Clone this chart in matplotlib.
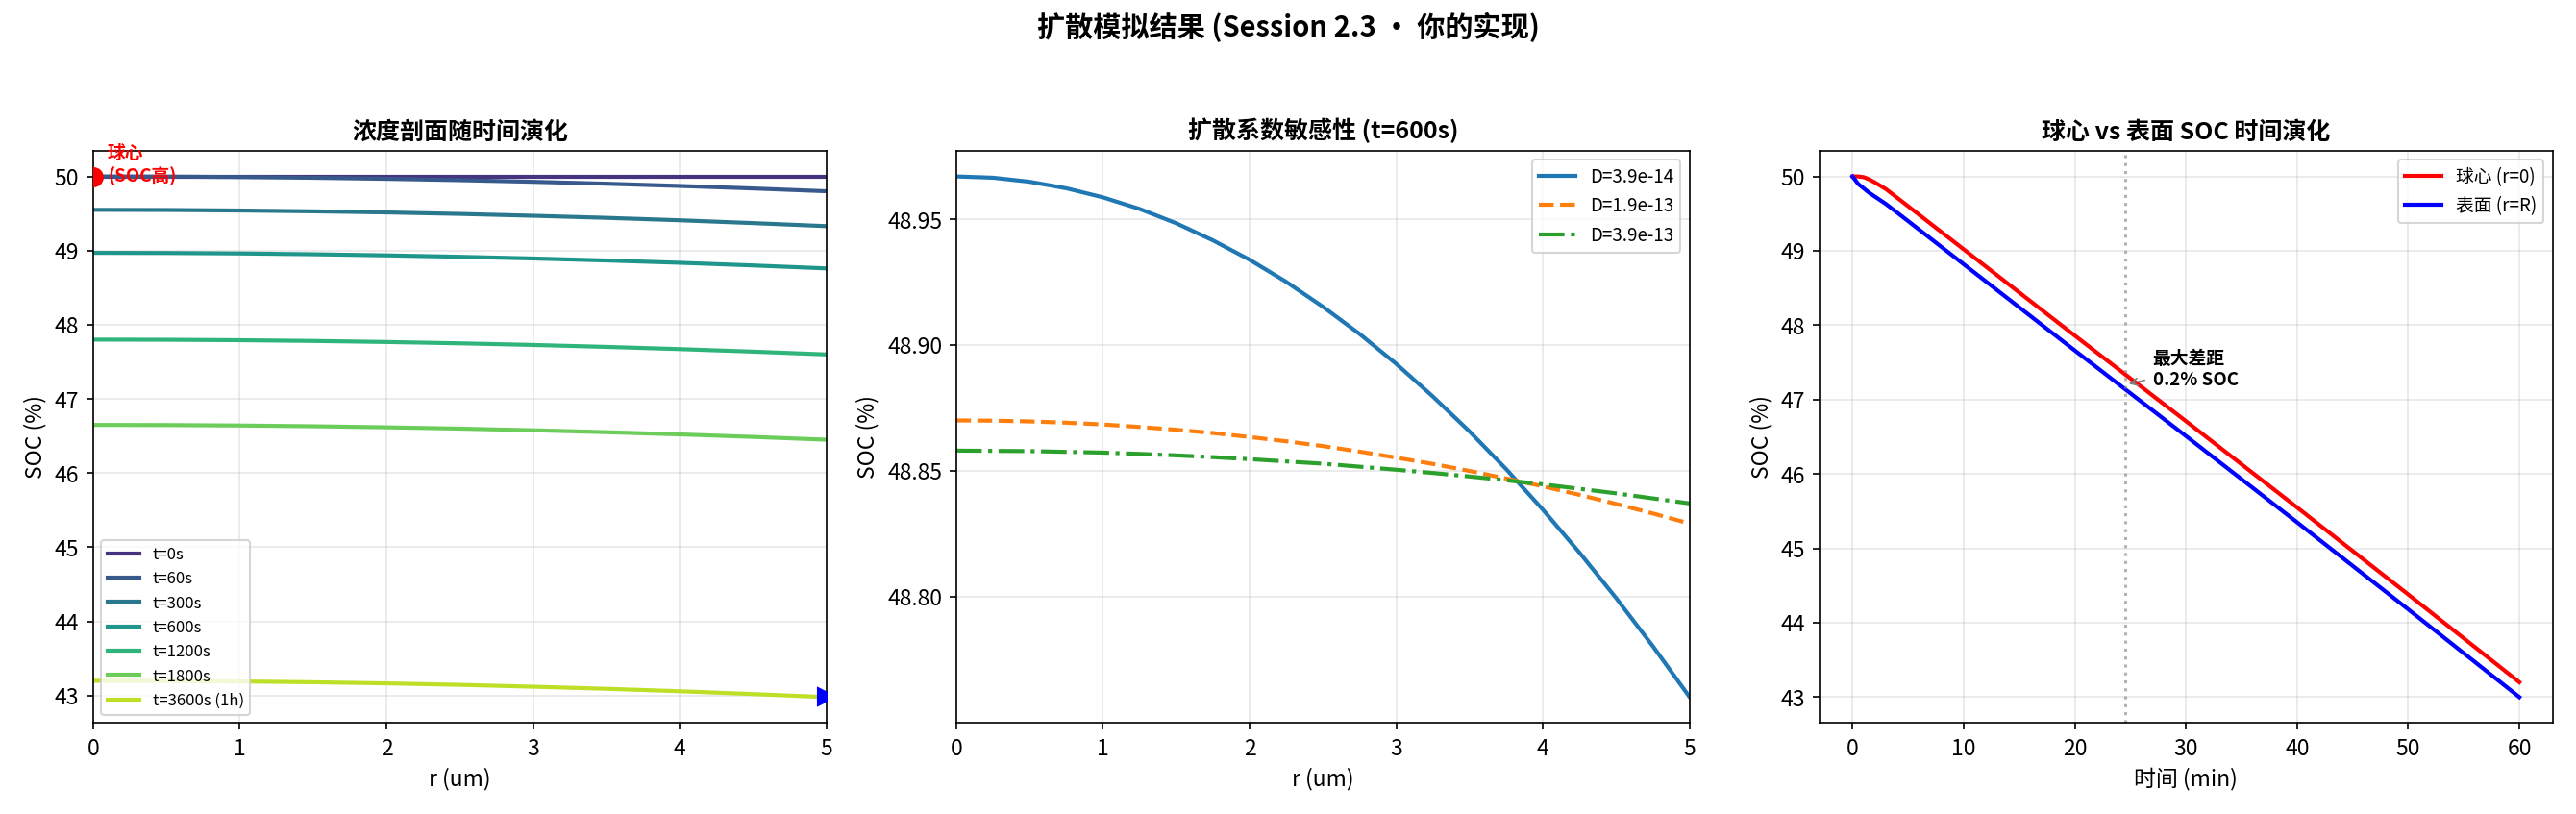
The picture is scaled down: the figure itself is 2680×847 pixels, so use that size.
import matplotlib
matplotlib.use("Agg")
import matplotlib.pyplot as plt
import numpy as np

plt.rcParams['font.family'] = ['Noto Sans CJK SC', 'DejaVu Sans']
plt.rcParams['axes.unicode_minus'] = False
plt.rcParams['font.size'] = 11

r = [0, 0.5, 1, 1.5, 2, 2.5, 3, 3.5, 4, 4.5, 5]
labels = ['t=0s', 't=60s', 't=300s', 't=600s', 't=1200s', 't=1800s', 't=3600s (1h)']
profiles = [
    [50.0]*11,
    [50.0, 49.998, 49.992, 49.982, 49.968, 49.950, 49.928, 49.902, 49.872, 49.838, 49.80],
    [49.55, 49.548, 49.541, 49.530, 49.515, 49.495, 49.470, 49.442, 49.409, 49.371, 49.33],
    [48.97, 48.968, 48.962, 48.951, 48.936, 48.917, 48.894, 48.867, 48.836, 48.800, 48.76],
    [47.80, 47.798, 47.792, 47.782, 47.768, 47.750, 47.728, 47.702, 47.672, 47.638, 47.60],
    [46.65, 46.648, 46.642, 46.632, 46.618, 46.600, 46.578, 46.552, 46.522, 46.488, 46.45],
    [43.20, 43.198, 43.191, 43.180, 43.165, 43.145, 43.120, 43.092, 43.059, 43.021, 42.98],
]

r2 = [0, 0.25, 0.5, 0.75, 1, 1.25, 1.5, 1.75, 2, 2.25, 2.5, 2.75, 3, 3.25, 3.5, 3.75, 4, 4.25, 4.5, 4.75, 5]
D_labels = ['D=3.9e-14', 'D=1.9e-13', 'D=3.9e-13']
D_vals = [
    [48.967, 48.9665, 48.9649, 48.9623, 48.9587, 48.9541, 48.9484, 48.9416, 48.9339, 48.9251, 48.9152,
     48.9044, 48.8925, 48.8795, 48.8656, 48.8506, 48.8345, 48.8174, 48.7993, 48.7802, 48.760],
    [48.870, 48.8699, 48.8696, 48.8691, 48.8684, 48.8674, 48.8663, 48.8650, 48.8634, 48.8617, 48.8598,
     48.8576, 48.8552, 48.8527, 48.8499, 48.8469, 48.8438, 48.8404, 48.8368, 48.8330, 48.829],
    [48.858, 48.8579, 48.8578, 48.8575, 48.8572, 48.8567, 48.8561, 48.8554, 48.8546, 48.8537, 48.8528,
     48.8516, 48.8504, 48.8491, 48.8477, 48.8462, 48.8446, 48.8428, 48.8410, 48.8390, 48.837],
]

t_min = [0, 0.5, 1, 1.5, 2, 3, 5, 10, 20, 30, 40, 50, 60]
center = [50.0, 50.0, 49.99, 49.96, 49.92, 49.83, 49.60, 49.02, 47.86, 46.71, 45.55, 44.38, 43.20]
surface = [50.0, 49.90, 49.84, 49.78, 49.73, 49.63, 49.40, 48.82, 47.66, 46.51, 45.35, 44.18, 43.00]
max_gap_t = 24.5

fig, axes = plt.subplots(1, 3, figsize=(17.87, 5.65), dpi=150)
fig.suptitle('扩散模拟结果 (Session 2.3 • 你的实现)', fontsize=14, fontweight='bold', y=0.985)

ax = axes[0]
cols = plt.cm.viridis(np.linspace(0.15, 0.9, len(labels)))
for lab, p, c in zip(labels, profiles, cols):
    ax.plot(r, p, color=c, lw=2, label=lab)
ax.plot(r[0], profiles[0][0], 'o', color='red', ms=9, zorder=5)
ax.plot(r[-1], profiles[-1][-1], '>', color='blue', ms=9, zorder=5)
ax.annotate('球心\n(SOC高)', (0, 50), xytext=(0.1, 49.95), color='red', fontsize=9, fontweight='bold')
ax.set_xlim(0, 5)
ax.set_title('浓度剖面随时间演化', fontsize=12, fontweight='bold')
ax.set_xlabel('r (um)')
ax.set_ylabel('SOC (%)')
ax.grid(alpha=0.3)
ax.legend(loc='lower left', fontsize=8)

ax = axes[1]
styles = ['-', '--', '-.']
cs = ['#1f77b4', '#ff7f0e', '#2ca02c']
for lab, v, s, c in zip(D_labels, D_vals, styles, cs):
    ax.plot(r2, v, s, color=c, lw=2, label=lab)
ax.set_xlim(0, 5)
ax.set_yticks([48.80, 48.85, 48.90, 48.95])
ax.set_title('扩散系数敏感性 (t=600s)', fontsize=12, fontweight='bold')
ax.set_xlabel('r (um)')
ax.set_ylabel('SOC (%)')
ax.grid(alpha=0.3)
ax.legend(loc='upper right', fontsize=9)

ax = axes[2]
ax.plot(t_min, center, color='red', lw=2, label='球心 (r=0)')
ax.plot(t_min, surface, color='blue', lw=2, label='表面 (r=R)')
ax.axvline(max_gap_t, color='gray', ls=':', alpha=0.6)
ax.annotate('最大差距\n0.2% SOC', (max_gap_t, 47.2), xytext=(27, 47.2), fontsize=9, fontweight='bold',
            arrowprops=dict(arrowstyle='->', color='gray', lw=0.8))
ax.set_title('球心 vs 表面 SOC 时间演化', fontsize=12, fontweight='bold')
ax.set_xlabel('时间 (min)')
ax.set_ylabel('SOC (%)')
ax.grid(alpha=0.3)
ax.legend(loc='upper right', fontsize=9)

fig.tight_layout(rect=(0, 0, 1, 0.95))
fig.savefig('out.png', dpi=150)
